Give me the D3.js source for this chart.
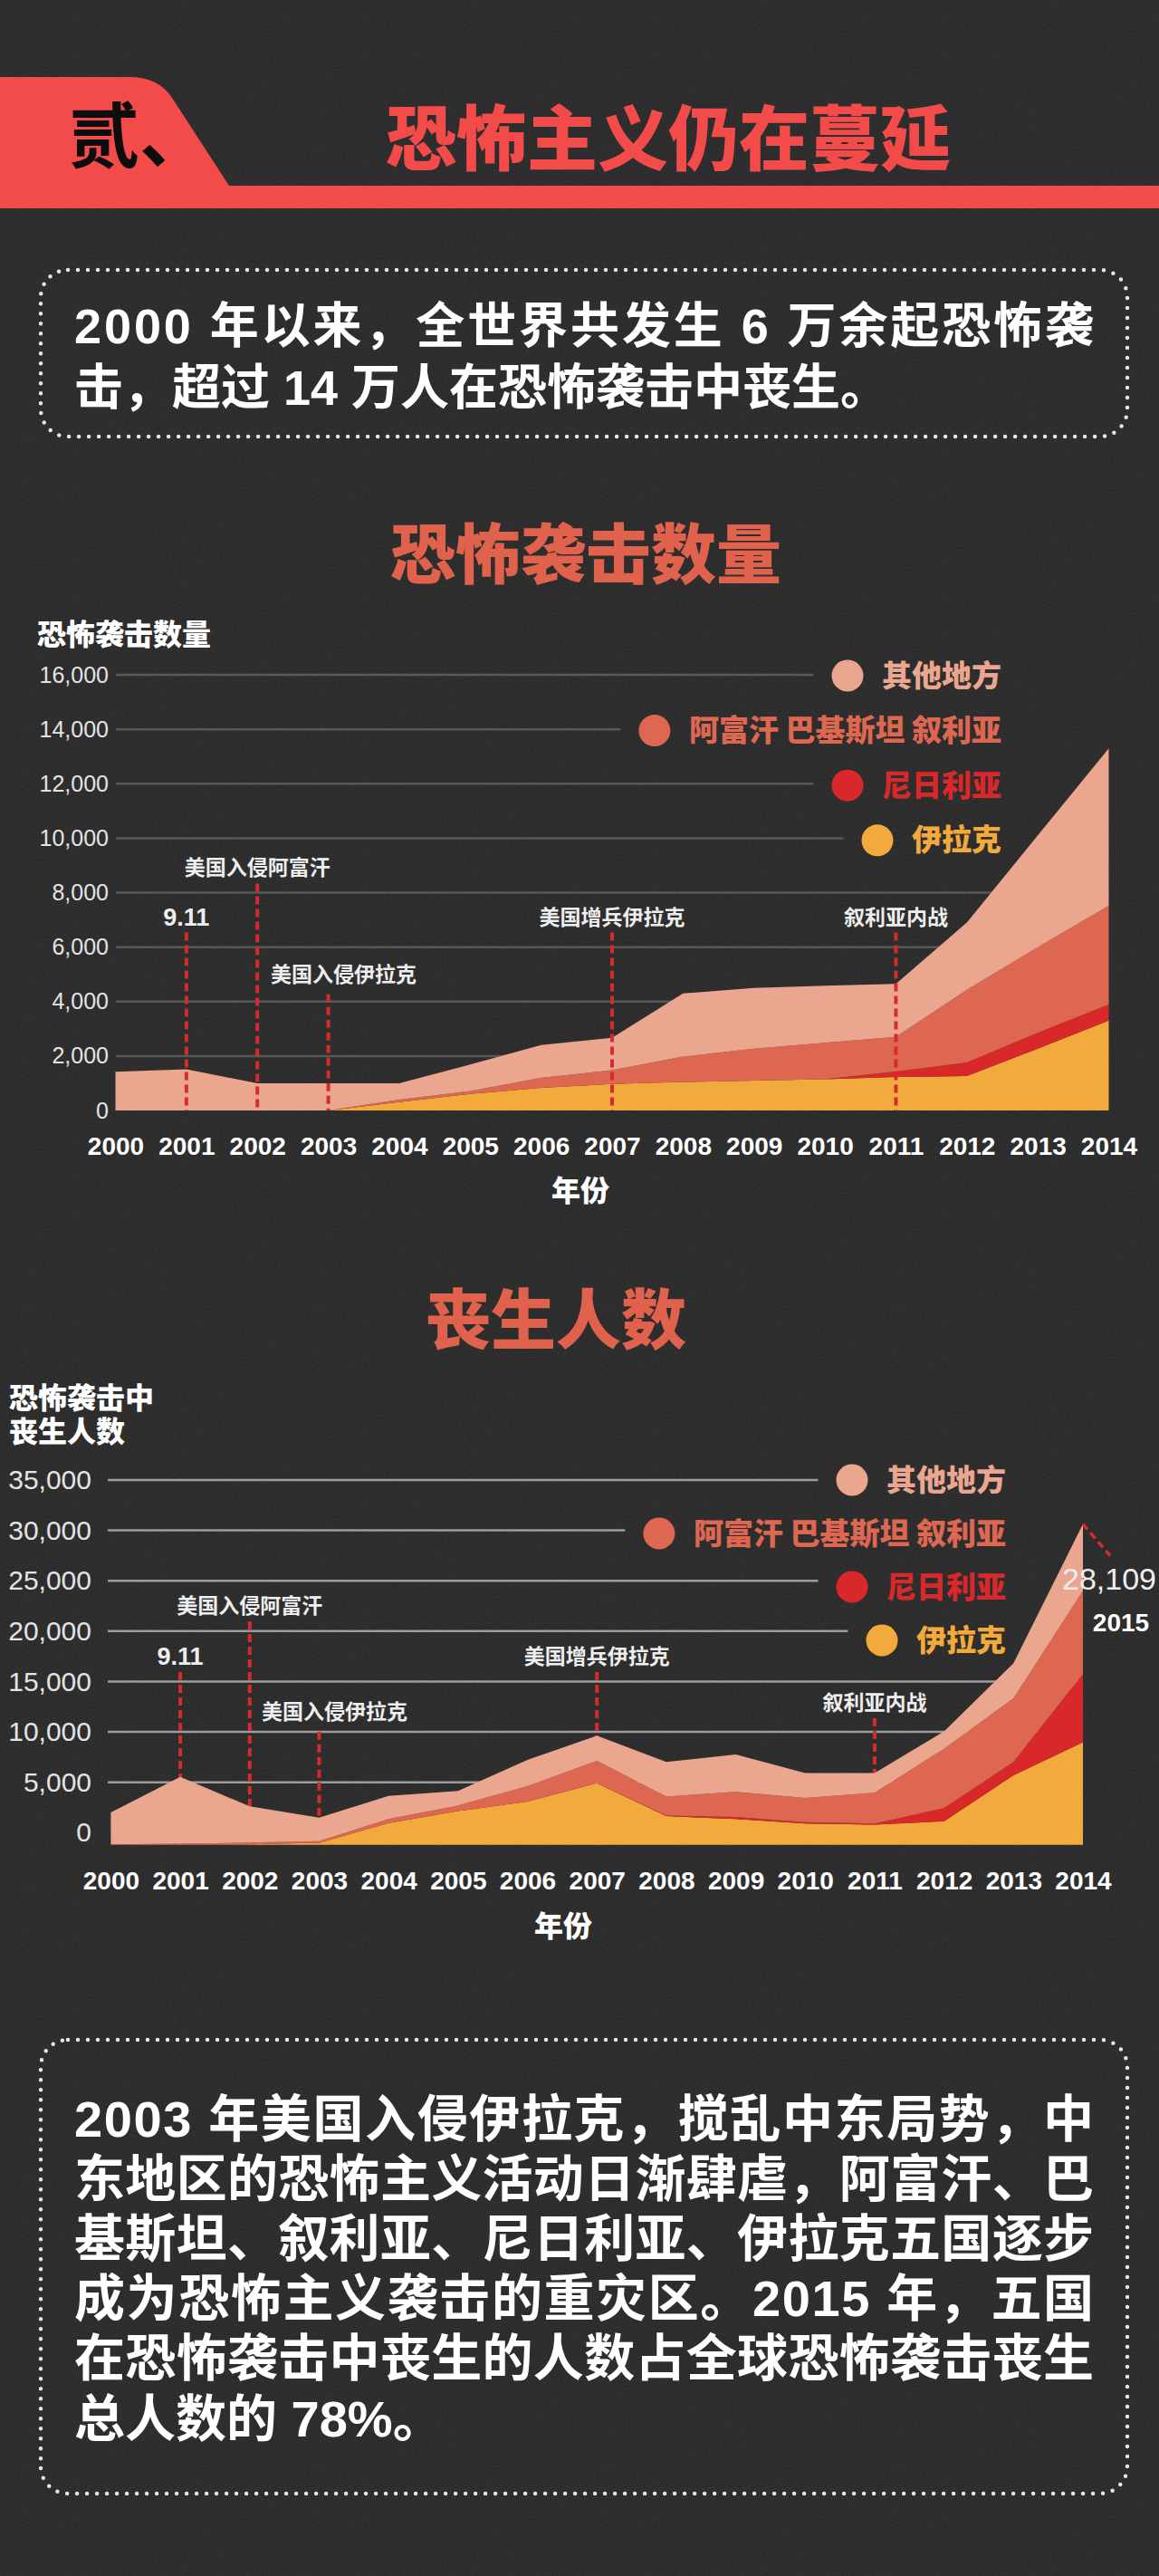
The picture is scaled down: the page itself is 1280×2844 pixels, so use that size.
<!DOCTYPE html>
<meta charset="utf-8">
<style>
    body {
        margin: 0;
        background-color: #2b2b2b;
    }

    svg {
        display: block;
        font-family: 'Noto Sans CJK SC', sans-serif;
    }

    .num {
        font-family: 'Liberation Sans', Arial, sans-serif;
    }

    .domain {
        display: none;
    }

    div.ytitle {
        font: 900 32px 'Noto Sans CJK SC', sans-serif;
        line-height: 37px;
        color: #fff;
        white-space: pre;
    }
</style>
<body>
<script src="https://cdn.jsdelivr.net/npm/d3@7"></script>
<script>

    // ---- data ----
    const years = [2000, 2001, 2002, 2003, 2004, 2005, 2006, 2007, 2008, 2009, 2010, 2011, 2012, 2013, 2014];

    // number of attacks, per layer (bottom to top)
    const attackIraq    = [0, 0, 0, 0, 310, 610, 830, 970, 1045, 1095, 1145, 1230, 1260, 2270, 3300];
    const attackNigeria = [0, 0, 0, 0, 0, 0, 0, 0, 0, 0, 0, 200, 500, 580, 590];
    const attackAPS     = [0, 0, 0, 0, 90, 105, 365, 510, 935, 1175, 1345, 1270, 2675, 3150, 3630];
    const attackOther   = [1420, 1510, 1000, 1000, 600, 975, 1205, 1190, 2320, 2230, 2090, 1950, 2465, 4100, 5780];

    // deaths, per layer (bottom to top), measured from the area floor
    const deathIraq    = [0, 0, 50, 200, 2160, 3350, 4285, 6100, 2850, 2550, 2110, 1990, 2330, 6900, 10180];
    const deathNigeria = [0, 0, 0, 0, 0, 0, 0, 0, 50, 210, 140, 120, 1310, 1320, 6750];
    const deathAPS     = [50, 100, 165, 160, 390, 540, 1530, 2240, 1880, 2490, 2400, 3060, 5880, 6310, 8270];
    const deathOther   = [3160, 6640, 3595, 2340, 2305, 1450, 2605, 2490, 3440, 3710, 2480, 1960, 1740, 3480, 6630];
    // in the picture the deaths areas sit a little below the "0" tick
    const deathFloor = -1200;

    const attackTicks = [0, 2000, 4000, 6000, 8000, 10000, 12000, 14000, 16000];
    const deathTicks = [0, 5000, 10000, 15000, 20000, 25000, 30000, 35000];

    const seriesKeys = ['iraq', 'nigeria', 'aps', 'other'];
    const seriesNames = ['伊拉克', '尼日利亚', '阿富汗 巴基斯坦 叙利亚', '其他地方'];
    const seriesColors = ['#f3aa3d', '#d8282a', '#de6751', '#eaa68f'];

    const eventYears = [2001, 2002, 2003, 2007, 2011];
    const eventLabels = ['9.11', '美国入侵阿富汗', '美国入侵伊拉克', '美国增兵伊拉克', '叙利亚内战'];
    // height (in chart units) where each event label sits
    const attackEventLevels = [7100, 8900, 5000, 7100, 7100];
    const deathEventLevels = [17470, 22510, 12020, 17470, 12890];

    const peakValueLabel = '28,109';
    const peakYearLabel = '2015';

    const introLines = [
        '2000 年以来，全世界共发生 6 万余起恐怖袭',
        '击，超过 14 万人在恐怖袭击中丧生。'
    ];
    const summaryLines = [
        '2003 年美国入侵伊拉克，搅乱中东局势，中',
        '东地区的恐怖主义活动日渐肆虐，阿富汗、巴',
        '基斯坦、叙利亚、尼日利亚、伊拉克五国逐步',
        '成为恐怖主义袭击的重灾区。2015 年，五国',
        '在恐怖袭击中丧生的人数占全球恐怖袭击丧生',
        '总人数的 78%。'
    ];

    const width = 1280;
    const height = 2844;

    const svg = d3.select('body')
        .append('svg')
        .attr('width', width)
        .attr('height', height);

    // grainy dark paper background
    const defs = svg.append('defs');
    const grain = defs.append('filter').attr('id', 'grain')
        .attr('x', 0).attr('y', 0).attr('width', '100%').attr('height', '100%');
    grain.append('feTurbulence')
        .attr('type', 'fractalNoise')
        .attr('baseFrequency', 0.8)
        .attr('numOctaves', 1)
        .attr('seed', 7);
    grain.append('feColorMatrix')
        .attr('values', '0 0 0 0 1  0 0 0 0 1  0 0 0 0 1  0.5 0 0 0 -0.22');

    svg.append('rect')
        .attr('width', width)
        .attr('height', height)
        .attr('fill', '#2b2b2b');
    svg.append('rect')
        .attr('width', width)
        .attr('height', height)
        .attr('filter', 'url(#grain)')
        .attr('opacity', 0.35);

    // ---- header ----
    svg.append('path')
        .attr('d', 'M0,85 H143 Q175,85 190,108 L253,205 H1280 V230 H0 Z')
        .attr('fill', '#f24b4a');

    svg.append('text')
        .attr('x', 76)
        .attr('y', 152)
        .attr('dy', '.35em')
        .attr('font-size', 78)
        .attr('font-weight', 700)
        .attr('fill', '#0d0d0d')
        .text('贰、');

    svg.append('text')
        .attr('x', 738)
        .attr('y', 155)
        .attr('dy', '.35em')
        .attr('text-anchor', 'middle')
        .attr('font-size', 78)
        .attr('font-weight', 900)
        .attr('fill', '#f24b4a')
        .text('恐怖主义仍在蔓延');

    // dotted rounded box with a paragraph of text
    function textBox(box, lines, top, pitch, size) {
        svg.append('rect')
            .attr('x', box.x)
            .attr('y', box.y)
            .attr('width', box.w)
            .attr('height', box.h)
            .attr('rx', 30)
            .attr('fill', 'none')
            .attr('stroke', '#e6e6e6')
            .attr('stroke-width', 4.5)
            .attr('stroke-linecap', 'round')
            .attr('stroke-dasharray', '0 11');

        svg.append('g')
            .selectAll('text')
            .data(lines)
            .enter().append('text')
            .attr('x', 82)
            .attr('y', (d, i) => top + i * pitch)
            .attr('dy', '.35em')
            .attr('font-size', size)
            .attr('font-weight', 700)
            .attr('fill', '#fff')
            .style('font-family', "'Liberation Sans', 'Noto Sans CJK SC', sans-serif")
            .each(function (d, i) {
                // justify every line but the last, like the original
                if (i < lines.length - 1) {
                    d3.select(this)
                        .attr('textLength', 1126)
                        .attr('lengthAdjust', 'spacing');
                }
            })
            .text(d => d);
    }

    textBox({x: 45, y: 298, w: 1200, h: 184}, introLines, 360, 68, 54);
    textBox({x: 45, y: 2252, w: 1200, h: 501}, summaryLines, 2339, 66.2, 56);

    // section titles
    svg.append('text')
        .attr('x', 647).attr('y', 613).attr('dy', '.35em')
        .attr('text-anchor', 'middle')
        .attr('font-size', 72).attr('font-weight', 900)
        .attr('fill', '#e1624c')
        .text('恐怖袭击数量');

    svg.append('text')
        .attr('x', 614).attr('y', 1458).attr('dy', '.35em')
        .attr('text-anchor', 'middle')
        .attr('font-size', 72).attr('font-weight', 900)
        .attr('fill', '#e1624c')
        .text('丧生人数');

    // ---- one stacked area chart ----
    function drawChart(o) {
        const g = svg.append('g').attr('class', o.name);

        const x = d3.scaleLinear()
            .domain([years[0], years[years.length - 1]])
            .range(o.xRange);
        const y = d3.scaleLinear()
            .domain(o.yDomain)
            .range(o.yRange);
        const floor = o.yDomain[0];

        const rows = years.map((yr, i) => {
            const r = {year: yr};
            seriesKeys.forEach((k, j) => { r[k] = o.series[j][i]; });
            return r;
        });
        const stacked = d3.stack().keys(seriesKeys)(rows);

        // legend layout, top row = top layer
        const legendRows = seriesKeys.map((k, j) => ({row: seriesKeys.length - 1 - j, idx: j}));
        const legendY = row => o.legendTop + row * o.legendPitch;

        const legend = g.append('g').attr('class', 'legend');
        const items = legend.selectAll('g')
            .data(legendRows)
            .enter().append('g')
            .attr('transform', d => 'translate(0,' + legendY(d.row) + ')');
        items.append('text')
            .attr('x', o.legendRight)
            .attr('dy', '.35em')
            .attr('text-anchor', 'end')
            .attr('font-size', 33)
            .attr('font-weight', 900)
            .attr('fill', d => seriesColors[d.idx])
            .text(d => seriesNames[d.idx]);
        items.each(function (d) {
            const w = d3.select(this).select('text').node().getComputedTextLength();
            d.cx = o.legendRight - w - 38;
        });
        items.append('circle')
            .attr('cx', d => d.cx)
            .attr('r', 17.5)
            .attr('fill', d => seriesColors[d.idx]);

        // gridlines: the top ones stop short of the legend
        const gridEnd = tick => {
            const hit = legendRows.find(d => Math.abs(legendY(d.row) - y(tick)) < 20);
            return hit ? hit.cx - 17.5 - 20 : o.xRange[1];
        };
        g.insert('g', '.legend')
            .attr('class', 'grid')
            .selectAll('line')
            .data(o.ticks.filter(t => t > 0))
            .enter().append('line')
            .attr('x1', o.gridStart)
            .attr('x2', d => gridEnd(d))
            .attr('y1', d => y(d))
            .attr('y2', d => y(d))
            .attr('stroke', o.gridColor)
            .attr('stroke-width', o.gridWidth);

        // event markers (behind the areas in the deaths chart)
        const eventData = eventYears.map((yr, i) => ({
            year: yr, label: eventLabels[i], level: o.eventLevels[i],
            dx: yr === 2003 ? 17 : 0
        }));
        const drawEventLines = () => {
            g.append('g')
                .attr('class', 'event-lines')
                .selectAll('line')
                .data(eventData)
                .enter().append('line')
                .attr('x1', d => x(d.year))
                .attr('x2', d => x(d.year))
                .attr('y1', d => y(d.level) + (d.year === 2003 ? 22 : 17))
                .attr('y2', y(floor))
                .attr('stroke', '#d42c2e')
                .attr('stroke-width', 4)
                .attr('stroke-dasharray', '9,5');
        };
        if (!o.eventsOnTop) drawEventLines();

        const area = d3.area()
            .x(d => x(d.data.year))
            .y0(d => y(floor + d[0]))
            .y1(d => y(floor + d[1]));

        g.append('g')
            .attr('class', 'areas')
            .selectAll('path')
            .data(stacked)
            .enter().append('path')
            .attr('d', area)
            .attr('fill', (d, i) => seriesColors[i]);

        if (o.eventsOnTop) drawEventLines();

        g.append('g')
            .attr('class', 'event-labels')
            .selectAll('text')
            .data(eventData)
            .enter().append('text')
            .attr('class', d => d.label === '9.11' ? 'num' : null)
            .attr('x', d => x(d.year) + d.dx)
            .attr('y', d => y(d.level))
            .attr('dy', '.35em')
            .attr('text-anchor', 'middle')
            .attr('font-size', d => d.label === '9.11' ? 27 : 23)
            .attr('font-weight', 700)
            .attr('fill', '#eee')
            .text(d => d.label);

        // y axis labels
        g.append('g')
            .attr('class', 'y axis num')
            .attr('transform', 'translate(' + o.tickRight + ',0)')
            .call(d3.axisLeft(y).tickValues(o.ticks).tickSize(0).tickPadding(0).tickFormat(d3.format(',')))
            .selectAll('text')
            .attr('font-size', o.tickSize)
            .attr('fill', '#e4e4e4');

        // x axis labels
        g.append('g')
            .attr('class', 'x axis num')
            .attr('transform', 'translate(0,' + o.yearY + ')')
            .call(d3.axisBottom(x).tickValues(years).tickSize(0).tickPadding(0).tickFormat(d3.format('d')))
            .selectAll('text')
            .attr('dy', '.35em')
            .attr('font-size', 28)
            .attr('font-weight', 700)
            .attr('fill', '#fff');

        g.selectAll('.axis text').style('font-family', "'Liberation Sans', Arial, sans-serif");

        // axis titles
        g.append('text')
            .attr('x', o.xTitle[0])
            .attr('y', o.xTitle[1])
            .attr('dy', '.35em')
            .attr('text-anchor', 'middle')
            .attr('font-size', 32)
            .attr('font-weight', 900)
            .attr('fill', '#fff')
            .text('年份');

        // y title, a small html block so the two lines stay one text
        g.append('foreignObject')
            .attr('x', o.yTitleX)
            .attr('y', o.yTitleY - 18.5)
            .attr('width', 300)
            .attr('height', 37 * o.yTitle.length)
            .append('xhtml:div')
            .attr('class', 'ytitle')
            .text(o.yTitle.join('\n'));

        return {x: x, y: y, stacked: stacked, floor: floor};
    }

    drawChart({
        name: 'attacks',
        series: [attackIraq, attackNigeria, attackAPS, attackOther],
        xRange: [127.5, 1224.5],
        yDomain: [0, 16000],
        yRange: [1226, 745],
        ticks: attackTicks,
        tickRight: 120,
        tickSize: 25,
        gridStart: 128,
        gridColor: '#595959',
        gridWidth: 2.5,
        legendTop: 746,
        legendPitch: 60.6,
        legendRight: 1106,
        eventLevels: attackEventLevels,
        eventsOnTop: true,
        yearY: 1265,
        xTitle: [641, 1315],
        yTitle: ['恐怖袭击数量'],
        yTitleX: 41,
        yTitleY: 698
    });

    const deaths = drawChart({
        name: 'deaths',
        series: [deathIraq, deathNigeria, deathAPS, deathOther],
        xRange: [122.4, 1196],
        yDomain: [deathFloor, 35000],
        yRange: [2036.7, 1634],
        ticks: deathTicks,
        tickRight: 101,
        tickSize: 30,
        gridStart: 119,
        gridColor: '#9c9c9c',
        gridWidth: 2.5,
        legendTop: 1634,
        legendPitch: 59,
        legendRight: 1111,
        eventLevels: deathEventLevels,
        eventsOnTop: false,
        yearY: 2076,
        xTitle: [622, 2127],
        yTitle: ['恐怖袭击中', '丧生人数'],
        yTitleX: 10,
        yTitleY: 1541
    });

    // pointer from the 2014 peak to the 2015 figure
    const last = years.length - 1;
    const peakX = deaths.x(years[last]);
    const peakY = deaths.y(deaths.floor + deaths.stacked[seriesKeys.length - 1][last][1]);

    svg.append('line')
        .attr('x1', peakX)
        .attr('y1', peakY)
        .attr('x2', peakX + 30)
        .attr('y2', peakY + 35)
        .attr('stroke', '#d42c2e')
        .attr('stroke-width', 3.5)
        .attr('stroke-dasharray', '8,5');

    svg.append('text')
        .attr('class', 'num')
        .attr('x', 1225)
        .attr('y', peakY + 60)
        .attr('dy', '.35em')
        .attr('text-anchor', 'middle')
        .attr('font-size', 34)
        .attr('fill', '#eee')
        .text(peakValueLabel);

    svg.append('text')
        .attr('class', 'num')
        .attr('x', 1238)
        .attr('y', peakY + 109)
        .attr('dy', '.35em')
        .attr('text-anchor', 'middle')
        .attr('font-size', 28)
        .attr('font-weight', 700)
        .attr('fill', '#fff')
        .text(peakYearLabel);

</script>
</body>
</html>
